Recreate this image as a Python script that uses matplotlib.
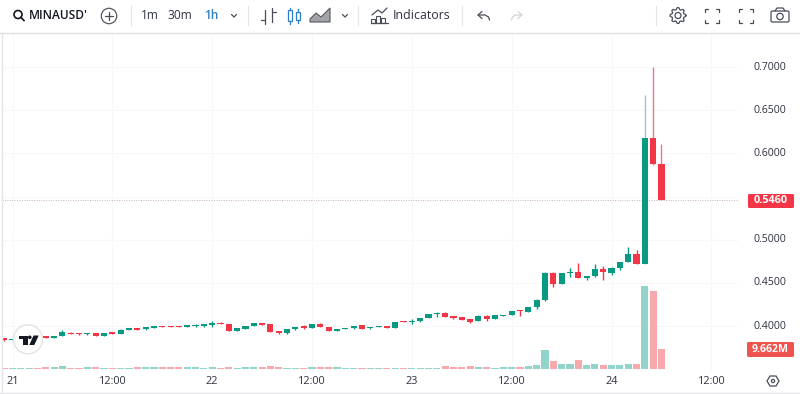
import matplotlib
matplotlib.use("Agg")
import matplotlib.pyplot as plt
import numpy as np
from matplotlib.patches import Circle, Polygon, FancyBboxPatch, Rectangle

plt.rcParams['font.family'] = ['Open Sans', 'DejaVu Sans']

# hourly candles, index 0 = 21st 00:00
first_idx = -1
opens = [.3860, .3840, .3850, .3855, .3868, .3885, .3862, .3886, .3925, .3915, .3905, .3920, .3888, .3930, .3913,
         .3956, .3975, .3963, .3983, .4005, .4002, .4000, .3994, .4002, .4006, .4014, .4040, .4029, .3944, .3968, .4006, .4037,
         .4025, .3948, .3917, .3963, .4002, .3983, .4022, .3994, .3948, .3971, .3975, .4010, .3975, .3994, .4006, .3983,
         .4056, .4048, .4056, .4095, .4137, .4149, .4118, .4102, .4083, .4064, .4122, .4087, .4122, .4126, .4184, .4168,
         .4222, .4303, .4619, .4492, .4619, .4623, .4557, .4581, .4666, .4619, .4669, .4746, .4839, .4719, .6175, .5878]
closes = [.3835, .3850, .3855, .3868, .3862, .3862, .3882, .3937, .3912, .3905, .3917, .3888, .3922, .3915, .3960,
          .3975, .3960, .3990, .4002, .3994, .3990, .3991, .4010, .4010, .4022, .4037, .4025, .3944, .3975, .4002, .4037, .4018,
          .3937, .3917, .3963, .3994, .3979, .4022, .3990, .3944, .3967, .3975, .4006, .3971, .3994, .4002, .3983, .4045,
          .4045, .4064, .4095, .4141, .4141, .4110, .4091, .4072, .4052, .4122, .4083, .4126, .4130, .4172, .4172, .4222,
          .4303, .4619, .4492, .4619, .4631, .4557, .4581, .4662, .4627, .4673, .4746, .4835, .4719, .6175, .5878, .5460]
highs = [.3865, .3852, .3860, .3870, .3888, .3886, .3884, .3956, .3930, .3917, .3919, .3922, .3924, .3932, .3962,
         .3977, .3977, .3992, .4004, .4007, .4004, .4002, .4012, .4022, .4028, .4064, .4050, .4031, .3977, .4004, .4039, .4039,
         .4027, .3950, .3965, .3996, .4014, .4024, .4033, .3996, .3969, .3977, .4008, .4012, .3996, .4004, .4008, .4047,
         .4058, .4080, .4097, .4143, .4164, .4160, .4120, .4104, .4085, .4124, .4124, .4128, .4132, .4174, .4186, .4224,
         .4310, .4630, .4625, .4621, .4669, .4727, .4583, .4716, .4696, .4690, .4748, .4920, .4881, .6676, .7003, .6109]
lows = [.3830, .3838, .3848, .3853, .3860, .3860, .3860, .3884, .3910, .3903, .3903, .3886, .3886, .3913, .3911,
        .3954, .3958, .3961, .3981, .3992, .3988, .3989, .3992, .3990, .3987, .3987, .4023, .3942, .3942, .3966, .4004, .4016,
        .3930, .3915, .3915, .3961, .3967, .3981, .3988, .3942, .3946, .3969, .3973, .3969, .3973, .3992, .3981, .3981,
        .4043, .4025, .4054, .4093, .4110, .4108, .4089, .4070, .4033, .4062, .4064, .4085, .4120, .4124, .4122, .4160,
        .4200, .4295, .4450, .4490, .4573, .4555, .4534, .4572, .4534, .4588, .4650, .4744, .4717, .4717, .5860, .5458]
volumes = [.3, .3, .3, .3, .3, .6, .8, 1.3, .5, .4, .6, .6, .4, .5, .5,
           .5, .6, .9, .9, .7, .7, .8, .6, .7, .3, .9, .5, .7, .3, .9, .9, .9,
           1.2, .7, .3, .5, .5, .6, 1.0, .6, .6, .3, .5, .3, .3, .3, .3, .3,
           .3, .3, .5, .5, .5, 1.2, .9, .8, 1.2, .7, .9, .3, .6, .7, .9, 1.5,
           1.7, 9.2, 3.7, 2.5, 2.5, 4.5, 1.7, 2.3, 2.0, 1.7, 1.7, 2.3, 2.2, 41.5, 38.7, 9.662]
price_ticks = [0.40, 0.45, 0.50, 0.55, 0.60, 0.65, 0.70]
shown_prices = ['0.4000', '0.4500', '0.5000', '', '0.6000', '0.6500', '0.7000']
time_ticks = [0, 12, 24, 36, 48, 60, 72, 84]
time_labels = ['21', '12:00', '22', '12:00', '23', '12:00', '24', '12:00']
last_price = 0.5460
last_volume = 9.662

GREEN = '#089981'
RED = '#F23645'
GREEN_V = '#92d3ca'
RED_V = '#f8a9ae'
TXT = '#2f3240'

W, H = 800, 394
# plot box in pixels
L, R, T, B = 2, 738, 34, 371


def px_x(px):
    return (px - 12.5) / 8.32


def px_y(py):
    return 0.7 - (py - 67) / 864


fig = plt.figure(figsize=(W / 100, H / 100), dpi=100, facecolor='white')
ax = fig.add_axes([L / W, 1 - B / H, (R - L) / W, (B - T) / H])
ax.set_xlim(px_x(L), px_x(R))
ax.set_ylim(px_y(B), px_y(T))
ax.set_xticks(time_ticks)
ax.set_yticks(price_ticks)
ax.grid(color='#f8f8f9', lw=0.8)
ax.tick_params(length=0, labelbottom=False, labelleft=False)
for s in ax.spines.values():
    s.set_visible(False)
ax.set_axisbelow(True)

idx = [first_idx + i for i in range(len(opens))]
for i, o, h, l, c in zip(idx, opens, highs, lows, closes):
    col = GREEN if c >= o else RED
    wick = '#8fd0c8' if i == 76 else ('#e8798a' if i >= 77 else col)
    ax.vlines(i, l, h, color=wick, lw=1.0, zorder=2)
    ax.bar(i, max(abs(c - o), 0.0012), bottom=min(o, c), width=0.74, color=col, lw=0, zorder=3)

# volume pane: 0.5M per pixel above the baseline
ax2 = ax.twinx()
ax2.set_ylim(-(B - 368.5) * 0.5, (368.5 - T) * 0.5)
ax2.axis('off')
vcols = [GREEN_V if c >= o else RED_V for o, c in zip(opens, closes)]
ax2.bar(idx, volumes, width=0.86, color=vcols, lw=0, zorder=1)

ax.axhline(last_price, color='#c9b4b8', lw=0.7, ls=(0, (1, 1.5)), zorder=1)

# everything around the plot is laid out in figure pixels
ov = fig.add_axes([0, 0, 1, 1], zorder=5)
ov.set_xlim(0, W)
ov.set_ylim(H, 0)
ov.axis('off')
ov.patch.set_alpha(0)

for y, lab in zip(price_ticks, shown_prices):
    if lab:
        ov.text(769.5, 67 + (0.7 - y) * 864, lab, ha='center', va='center', fontsize=7.6, color=TXT)
for t, lab in zip(time_ticks, time_labels):
    ov.text(12.5 + t * 8.32, 381.5, lab, ha='center', va='center', fontsize=7.8, color=TXT)

ov.add_patch(FancyBboxPatch((748, 194), 46, 14, boxstyle='round,pad=0,rounding_size=1.5', fc=RED, ec='none'))
ov.text(771, 200.5, '%.4f' % last_price, ha='center', va='center', fontsize=7.8, color='white', weight='bold')
ov.add_patch(FancyBboxPatch((747, 342), 47, 15, boxstyle='round,pad=0,rounding_size=1.5', fc='#ef5350', ec='none'))
ov.text(770.5, 349.5, '%.3fM' % last_volume, ha='center', va='center', fontsize=7.6, color='white', weight='bold')

# frame lines
ov.plot([0, W], [33, 33], color='#e0e0e3', lw=1)
ov.plot([1.5, 1.5], [33, 392], color='#e4e4e6', lw=1)
ov.plot([0, W], [392.5, 392.5], color='#e4e4e6', lw=1)
for x in [130.5, 247.5, 357.5, 462, 656]:
    ov.plot([x, x], [6, 25], color='#e4e4e7', lw=0.8)

# tradingview badge
ov.add_patch(Circle((28, 339.3), 14.5, fc='white', ec='#e2e3e6', lw=1, zorder=6))
ov.add_patch(Polygon([(19, 335.5), (28, 335.5), (28, 345), (23, 345), (23, 339), (19, 339)], fc='#131722', zorder=7))
ov.add_patch(Circle((29.8, 337.3), 1.8, fc='#131722', zorder=7))
ov.add_patch(Polygon([(33.5, 335.5), (38.7, 335.5), (34.3, 345), (29.3, 345)], fc='#131722', zorder=7))

# toolbar text
ov.text(29, 15.5, "MINAUSD'", ha='left', va='center', fontsize=8.6, color='#131722', weight='semibold')
ov.text(150, 15.5, '1m', ha='center', va='center', fontsize=8.6, color=TXT)
ov.text(180, 15.5, '30m', ha='center', va='center', fontsize=8.6, color=TXT)
ov.text(211, 15.5, '1h', ha='center', va='center', fontsize=8.6, color='#2f7fc4', weight='semibold')
ov.text(393, 15.5, 'Indicators', ha='left', va='center', fontsize=8.9, color=TXT)

icon = dict(color='#4a4d58', lw=0.9, solid_capstyle='round')
# search
ov.add_patch(Circle((18, 14.5), 4, fc='none', ec='#131722', lw=1.2))
ov.plot([21, 24], [17.5, 20.5], color='#131722', lw=1.2)
# add symbol
ov.add_patch(Circle((109, 16), 7.7, fc='none', ec='#55585f', lw=0.9))
ov.plot([105, 113], [16, 16], **icon)
ov.plot([109, 109], [12, 20], **icon)
# chevrons
for x in [234, 345]:
    ov.plot([x - 2.5, x, x + 2.5], [14.5, 17, 14.5], **icon)
# bars
ov.plot([265, 265], [10, 24], **icon)
ov.plot([261, 265], [20, 20], **icon)
ov.plot([272, 272], [8, 22], **icon)
ov.plot([272, 276], [12, 12], **icon)
# candles
for x, top, bot, wt, wb in [(290, 10, 21, 8, 24), (298, 12, 20, 9, 23)]:
    ov.add_patch(Rectangle((x - 2, top), 4, bot - top, fc='none', ec='#2f7fc4', lw=0.9))
    ov.plot([x, x], [wt, top], color='#2f7fc4', lw=0.9)
    ov.plot([x, x], [bot, wb], color='#2f7fc4', lw=0.9)
# area
ov.add_patch(Polygon([(310, 22), (310, 19), (316, 13), (321, 17), (330, 8), (330, 22)], fc='#a3a4a8', ec='#55585f', lw=0.8))
# indicators icon
ov.plot([372, 378, 382, 387], [15, 10, 13, 8], **icon)
for x, top in [(373, 19), (378, 16), (383, 18)]:
    ov.add_patch(Rectangle((x - 1.8, top), 3.6, 23 - top, fc='none', ec='#4a4d58', lw=0.8))
ov.plot([371, 388], [23, 23], **icon)
# undo / redo
ov.plot([482, 478, 482], [11.5, 15, 18.5], **icon)
ov.plot([478, 485, 488.5, 489.5], [15, 15, 17, 20], **icon)
grey = dict(color='#d4d5d9', lw=0.9, solid_capstyle='round')
ov.plot([518, 522, 518], [11.5, 15, 18.5], **grey)
ov.plot([522, 515, 512.5, 511.5], [15, 15, 17, 20], **grey)
# settings
ang = np.linspace(0, 2 * np.pi, 65)
rad = 7 + 1.8 * np.clip(2.2 * np.cos(8 * ang), -1, 1) / 2
ov.plot(678 + rad * np.cos(ang), 15.5 + rad * np.sin(ang), color='#4a4d58', lw=0.9)
ov.add_patch(Circle((678, 15.5), 3, fc='none', ec='#4a4d58', lw=0.9))
# fullscreen pair
for cx in [712, 746]:
    for sx, sy in [(-1, -1), (1, -1), (-1, 1), (1, 1)]:
        ov.plot([cx + sx * 7, cx + sx * 7, cx + sx * 4], [15.5 + sy * 4, 15.5 + sy * 7, 15.5 + sy * 7], **icon)
# camera
ov.add_patch(FancyBboxPatch((771, 11), 18, 11, boxstyle='round,pad=0,rounding_size=1.5', fc='none', ec='#4a4d58', lw=0.9))
ov.plot([775, 777, 783, 785], [11, 8, 8, 11], **icon)
ov.add_patch(Circle((780, 16.5), 3.2, fc='none', ec='#4a4d58', lw=0.9))
# axis settings
ov.add_patch(Polygon([(767, 381), (770, 376), (776, 376), (779, 381), (776, 386), (770, 386)], fc='none', ec='#4a4d58', lw=0.9))
ov.add_patch(Circle((773, 381), 1.6, fc='none', ec='#4a4d58', lw=0.9))

fig.savefig('out.png', dpi=100)
